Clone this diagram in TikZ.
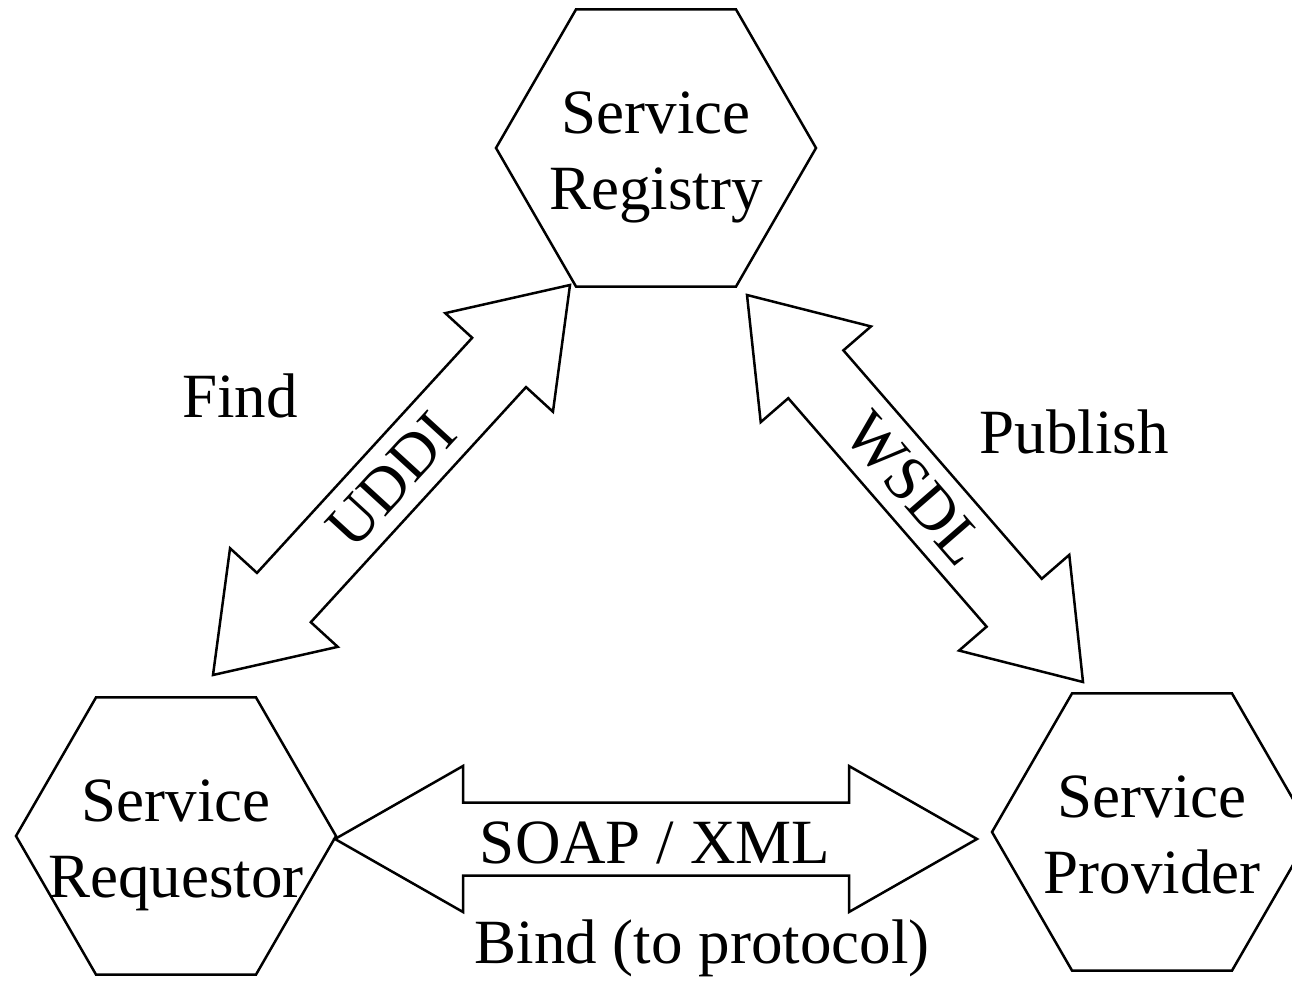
\documentclass[tikz,border=0pt]{standalone}
\usepackage{fontspec}
\setmainfont{Liberation Serif}
\usetikzlibrary{shapes.geometric, calc}

\newcommand{\headw}{73pt}
\newcommand{\shaftw}{36.5pt}
\newcommand{\dblockarrow}[3]{%
  \coordinate (#1h) at ($(#1)!#3!(#2)$);
  \coordinate (#2h) at ($(#2)!#3!(#1)$);
  \draw (#1)
    -- ($(#1h)!\headw!90:(#2)$) -- ($(#1h)!\shaftw!90:(#2)$)
    -- ($(#2h)!\shaftw!-90:(#1)$) -- ($(#2h)!\headw!-90:(#1)$)
    -- (#2)
    -- ($(#2h)!\headw!90:(#1)$) -- ($(#2h)!\shaftw!90:(#1)$)
    -- ($(#1h)!\shaftw!-90:(#2)$) -- ($(#1h)!\headw!-90:(#2)$)
    -- cycle;}

\begin{document}
\begin{tikzpicture}[x = 1pt, y = -1pt, line width = 2.5pt,
  hexa/.style = {draw, regular polygon, regular polygon sides = 6, minimum size = 320pt, inner sep = 0pt},
  lbl/.style = {font = \fontsize{63}{76}\selectfont, inner sep = 0pt},
  hexlbl/.style = {lbl, align = center, execute at begin node = \strut, execute at end node = \strut, yshift = -14pt}]
  \useasboundingbox (0, 0) rectangle (1292, 981);

  \node[hexa] (reg) at (656, 148) {};
  \node[hexa] (req) at (176, 836) {};
  \node[hexa] (prov) at (1152, 832) {};
  \node[hexlbl] (regtext) at (reg) {Service\\Registry};
  \node[hexlbl] (reqtext) at (req) {Service\\Requestor};
  \node[hexlbl] (provtext) at (prov) {Service\\Provider};

  \coordinate (ua) at (570, 285);
  \coordinate (ub) at (213, 675);
  \coordinate (wa) at (747, 295);
  \coordinate (wb) at (1083, 682);
  \coordinate (sa) at (335, 839);
  \coordinate (sb) at (977, 839);
  \dblockarrow{ua}{ub}{105pt}
  \dblockarrow{wa}{wb}{105pt}
  \dblockarrow{sa}{sb}{128pt}

  \path (ub) -- node[lbl, sloped] (uddi) {UDDI} (ua);
  \path (wa) -- node[lbl, sloped] (wsdl) {WSDL} (wb);

  \node[lbl, anchor = base] (find) at (240, 417) {Find};
  \node[lbl, anchor = base] (publish) at (1074, 453) {Publish};
  \node[lbl, anchor = base] (soap) at (655, 863) {SOAP / XML};
  \node[lbl, anchor = base] (bind) at (702, 963) {Bind (to protocol)};
\end{tikzpicture}
\end{document}
